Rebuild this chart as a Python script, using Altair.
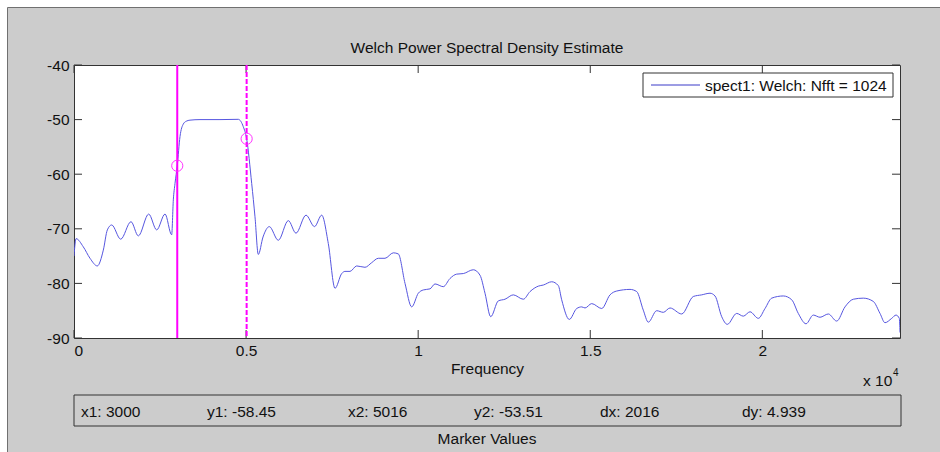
import altair as alt
import pandas as pd

# ---- data ----
freq = [0, 60, 270, 465, 677, 852, 969, 1095, 1357, 1656, 1869, 2170, 2403, 2645, 2838,
        2886, 2935, 3000, 3080, 3177, 3260, 3370, 3661, 4242, 4774, 4919, 5016, 5163, 5259,
        5355, 5492, 5675, 5936, 6227, 6450, 6741, 6988, 7197, 7389, 7584, 7778, 7874, 8019,
        8214, 8455, 8650, 8842, 9036, 9278, 9423, 9618, 9812, 10004, 10149, 10344, 10489,
        10730, 10925, 11120, 11312, 11602, 11797, 11942, 12108, 12329, 12523, 12764, 13055,
        13250, 13491, 13636, 13880, 14072, 14170, 14391, 14606, 14752, 14848, 15042, 15333,
        15574, 15769, 16155, 16350, 16541, 16687, 16931, 17123, 17317, 17657, 17994, 18238,
        18480, 18625, 18820, 18982, 19255, 19447, 19642, 19883, 20078, 20272, 20609, 20854,
        21045, 21269, 21481, 21676, 21917, 22161, 22402, 22643, 22934, 23224, 23419, 23564,
        23759, 23884, 23980, 24000]
psd = [-75.0, -71.8, -73.3, -75.4, -76.8, -73.9, -70.2, -69.3, -71.9, -68.7, -71.3, -67.3,
       -70.2, -67.3, -71.1, -64.7, -61.7, -58.45, -53.1, -50.8, -50.3, -50.1, -50.0, -50.0,
       -49.95, -51.3, -53.51, -61.7, -67.8, -74.7, -71.5, -69.6, -72.1, -68.5, -70.8, -67.5,
       -69.6, -67.5, -72.7, -80.9, -78.2, -77.8, -77.8, -76.8, -77.05, -76.2, -75.4, -75.4,
       -74.4, -74.6, -80.0, -84.3, -81.8, -81.2, -81.0, -80.1, -80.6, -79.1, -78.3, -78.2,
       -77.5, -78.5, -81.8, -86.1, -83.2, -82.9, -82.1, -82.9, -81.5, -80.5, -80.3, -79.7,
       -80.4, -83.0, -86.6, -84.6, -84.3, -84.5, -83.7, -84.6, -82.1, -81.4, -81.1, -81.5,
       -84.9, -87.1, -85.0, -85.3, -84.5, -85.6, -82.4, -82.1, -81.8, -82.3, -86.1, -87.5,
       -85.5, -86.0, -85.2, -86.4, -84.6, -82.7, -82.3, -83.0, -85.5, -87.4, -85.8, -86.2,
       -85.6, -86.9, -84.3, -82.9, -82.7, -83.3, -85.5, -87.2, -86.4, -85.8, -86.4, -89.0]

marker_x = [3000, 5016]
marker_y = [-58.45, -53.51]
readout_names = ["x1", "y1", "x2", "y2", "dx", "dy"]
readout_values = ["3000", "-58.45", "5016", "-53.51", "2016", "4.939"]

x_ticks = [0, 5000, 10000, 15000, 20000]
y_ticks = [-90, -80, -70, -60, -50, -40]

title_text = "Welch Power Spectral Density Estimate"
series_name = "spect1: Welch: Nfft = 1024"
x_title = "Frequency"
box_title = "Marker Values"

# ---- layout / style ----
W, H = 826, 273
FONT = "Liberation Sans"
FS = 15.5
AXC = "#333333"
TXT = "#111111"
MAG = "#ff00ff"
BLUE = "#5656e0"

xs = alt.Scale(domain=[0, 24000], nice=False, zero=False)
ys = alt.Scale(domain=[-90, -40], nice=False, zero=False)

one = pd.DataFrame({"a": [0]})
df = pd.DataFrame({"f": freq, "p": psd})
mdf = pd.DataFrame({"x": marker_x, "y": marker_y})
xt = pd.DataFrame({"v": x_ticks})
yt = pd.DataFrame({"v": y_ticks})

# frame decorations
white_top = alt.Chart(one).mark_rect(fill="white").encode(
    x=alt.value(-74), x2=alt.value(W + 40), y=alt.value(-65), y2=alt.value(-57))
white_left = alt.Chart(one).mark_rect(fill="white").encode(
    x=alt.value(-74), x2=alt.value(-66), y=alt.value(-65), y2=alt.value(H + 114))
frame = alt.Chart(one).mark_rect(fillOpacity=0, stroke="#707070", strokeWidth=1).encode(
    x=alt.value(-66.5), x2=alt.value(W + 60), y=alt.value(-57.5), y2=alt.value(H + 140))

x_axis = alt.Axis(values=x_ticks, labelExpr="format(datum.value / 10000, '~g')",
                  tickSize=0, domain=False, grid=False, labelPadding=5,
                  title=x_title, titlePadding=3, titleFontWeight="normal",
                  titleFontSize=FS, titleFont=FONT, titleColor=TXT)
y_axis = alt.Axis(values=y_ticks, labelExpr="datum.value + ''", tickSize=0,
                  domain=False, grid=False, labelPadding=5, title=None)

curve = alt.Chart(df).mark_line(color=BLUE, strokeWidth=1, interpolate="monotone",
                                clip=True).encode(
    x=alt.X("f:Q", scale=xs, axis=x_axis),
    y=alt.Y("p:Q", scale=ys, axis=y_axis))

# inward ticks on all four sides
tk = dict(color=AXC, strokeWidth=1)
tb = alt.Chart(xt).mark_rule(**tk).encode(x=alt.X("v:Q", scale=xs), y=alt.value(H), y2=alt.value(H - 8))
tt = alt.Chart(xt).mark_rule(**tk).encode(x=alt.X("v:Q", scale=xs), y=alt.value(0), y2=alt.value(8))
tl = alt.Chart(yt).mark_rule(**tk).encode(y=alt.Y("v:Q", scale=ys), x=alt.value(0), x2=alt.value(8))
tr = alt.Chart(yt).mark_rule(**tk).encode(y=alt.Y("v:Q", scale=ys), x=alt.value(W), x2=alt.value(W - 8))

vline1 = alt.Chart(mdf.iloc[[0]]).mark_rule(color=MAG, strokeWidth=2).encode(
    x=alt.X("x:Q", scale=xs))
vline2 = alt.Chart(mdf.iloc[[1]]).mark_rule(color=MAG, strokeWidth=2, strokeDash=[5, 2]).encode(
    x=alt.X("x:Q", scale=xs))
circles = alt.Chart(mdf).mark_point(shape="circle", size=125, filled=False, color="#ff33ff",
                                    strokeWidth=1, opacity=1).encode(
    x=alt.X("x:Q", scale=xs), y=alt.Y("y:Q", scale=ys))

# title
title = alt.Chart(one).mark_text(text=title_text, font=FONT, fontSize=FS, color=TXT,
                                 align="center", baseline="middle").encode(
    x=alt.value(W / 2), y=alt.value(-17))

# legend
leg_box = alt.Chart(one).mark_rect(fill="white", stroke=AXC, strokeWidth=1).encode(
    x=alt.value(569), x2=alt.value(819), y=alt.value(8), y2=alt.value(32))
leg_line = alt.Chart(one).mark_rule(color="#3a3ac8", strokeWidth=1).encode(
    x=alt.value(577), x2=alt.value(626), y=alt.value(20))
leg_text = alt.Chart(one).mark_text(text=series_name, font=FONT, fontSize=FS, color=TXT,
                                    align="left", baseline="middle").encode(
    x=alt.value(631), y=alt.value(20.5))

# x 10^4 exponent label
exp_main = alt.Chart(one).mark_text(text="x 10", font=FONT, fontSize=FS, color=TXT,
                                    align="left", baseline="middle").encode(
    x=alt.value(789), y=alt.value(316))
exp_sup = alt.Chart(one).mark_text(text="4", font=FONT, fontSize=10, color=TXT,
                                   align="left", baseline="middle").encode(
    x=alt.value(819), y=alt.value(308))

# marker values box
mv_box = alt.Chart(one).mark_rect(fillOpacity=0, stroke=AXC, strokeWidth=1).encode(
    x=alt.value(0), x2=alt.value(W + 1), y=alt.value(330), y2=alt.value(361))
readout_x = [7, 133, 274, 400, 526, 668]
readouts = []
for name, val, px in zip(readout_names, readout_values, readout_x):
    readouts.append(alt.Chart(one).mark_text(text=f"{name}: {val}", font=FONT, fontSize=FS,
                                             color=TXT, align="left", baseline="middle").encode(
        x=alt.value(px), y=alt.value(346.5)))
mv_title = alt.Chart(one).mark_text(text=box_title, font=FONT, fontSize=FS, color=TXT,
                                    align="center", baseline="middle").encode(
    x=alt.value(W / 2), y=alt.value(374))

chart = alt.layer(
    white_top, white_left, frame,
    curve, tb, tt, tl, tr, vline1, vline2, circles,
    title, leg_box, leg_line, leg_text, exp_main, exp_sup, mv_box, *readouts, mv_title
).properties(
    width=W, height=H,
    autosize=alt.AutoSizeParams(type="none"),
    padding={"left": 74, "top": 65, "right": 40, "bottom": 114},
    background="#cccccc",
).configure_view(
    fill="white", stroke=AXC, strokeWidth=1
).configure_axis(
    labelFont=FONT, labelFontSize=FS, labelColor=TXT
)

chart.save("out.html", embed_options={"renderer": "svg", "actions": False})
